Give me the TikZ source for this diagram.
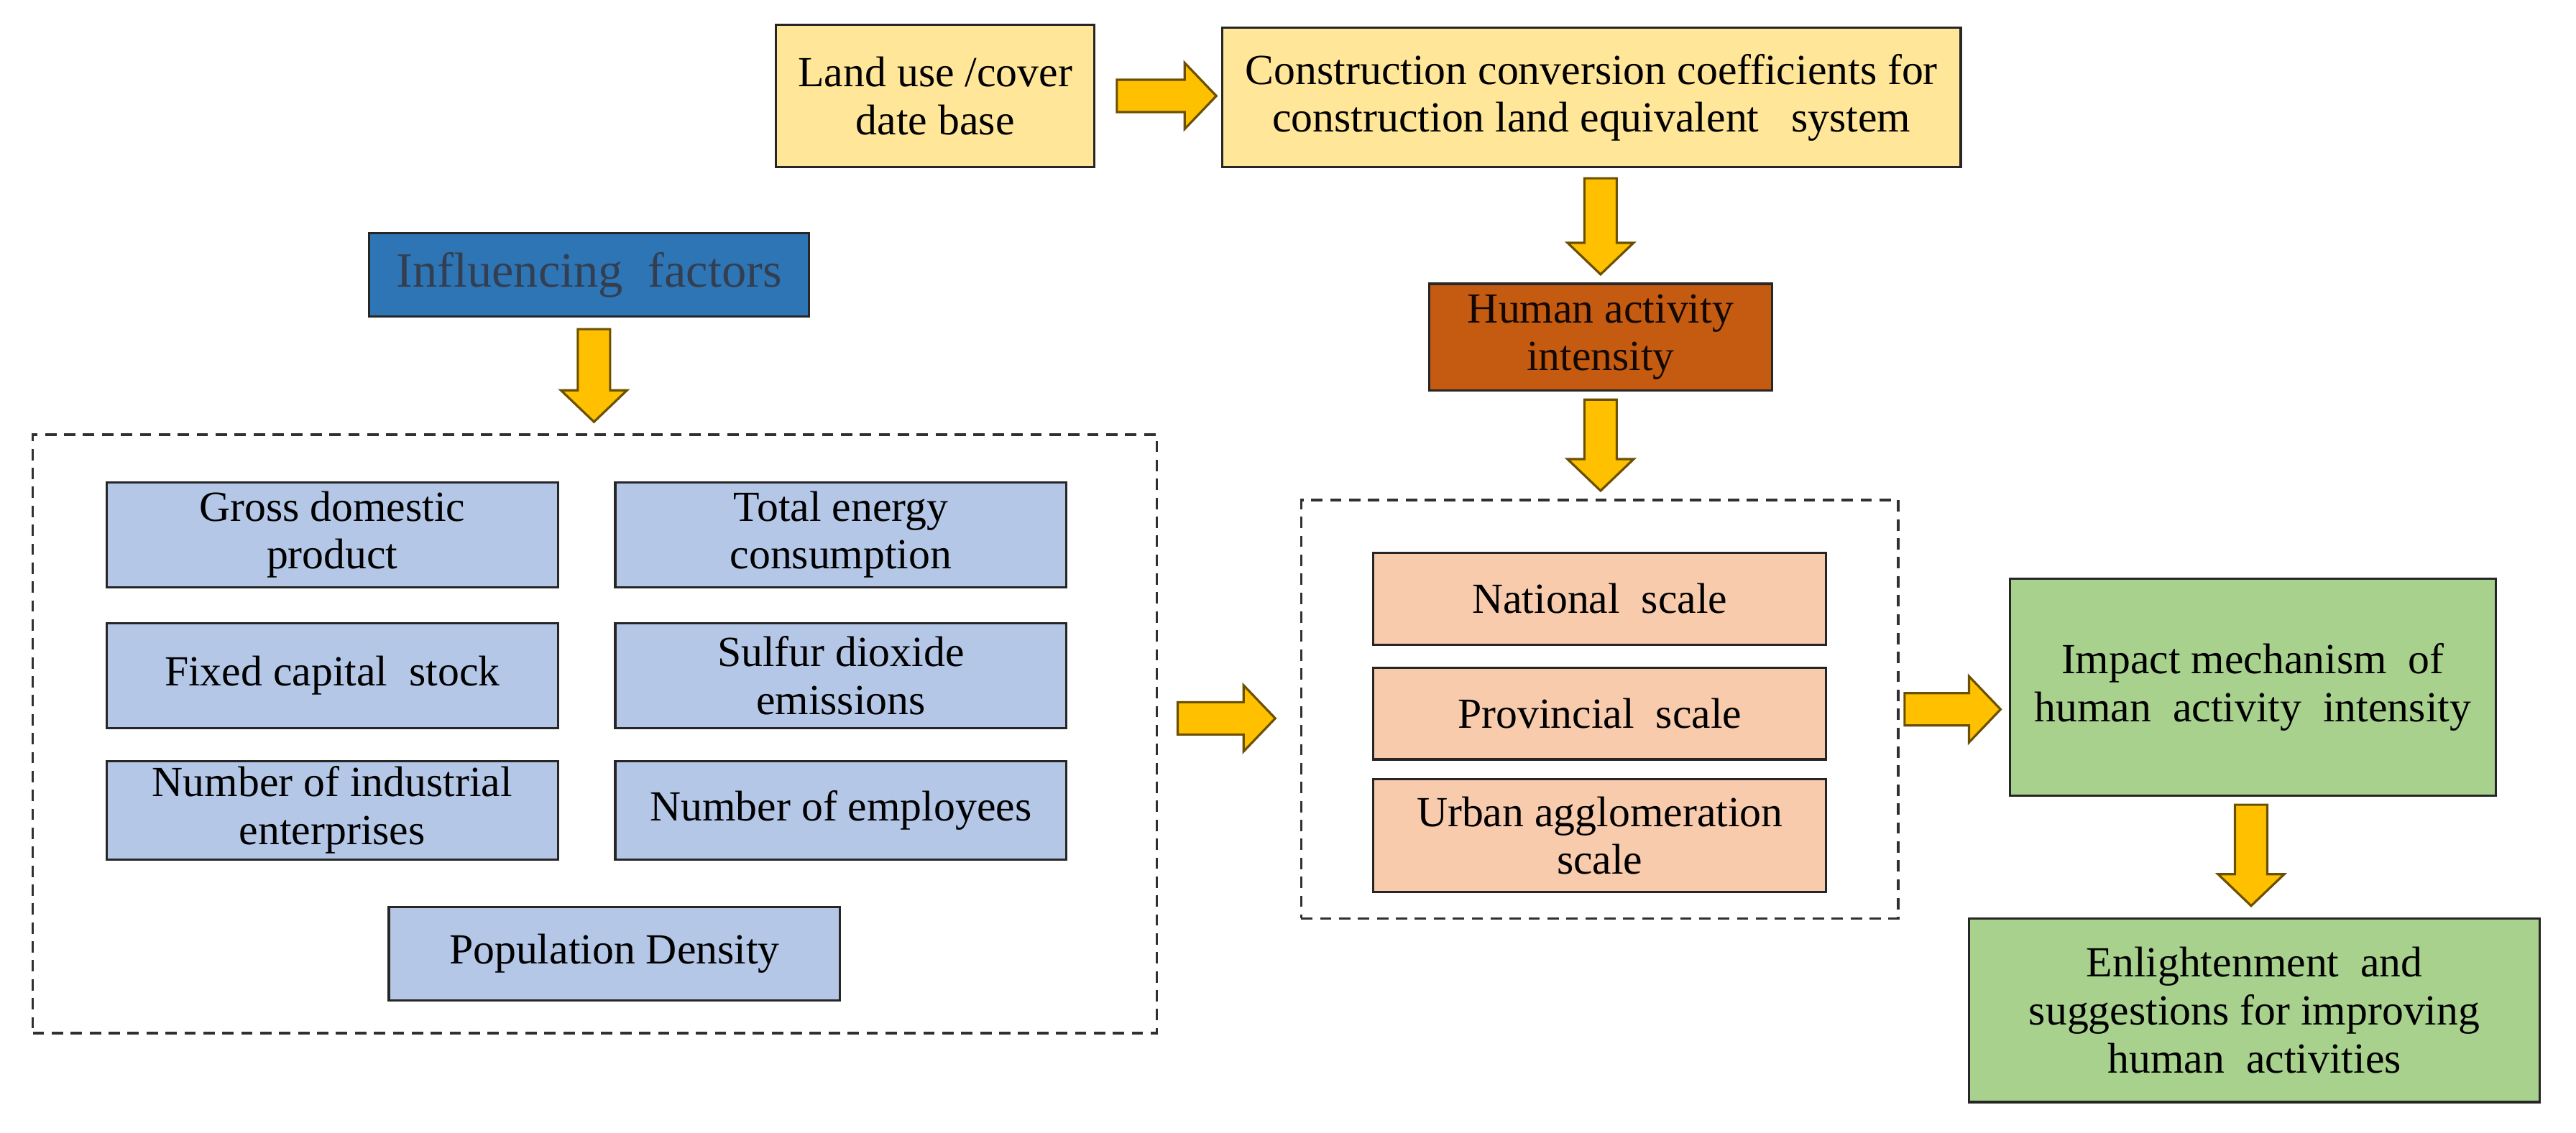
\documentclass[tikz,border=0pt]{standalone}
\usepackage{fontspec}
\setmainfont{Liberation Serif}
\usetikzlibrary{calc}
\definecolor{boxline}{HTML}{262626}
\definecolor{yel}{HTML}{FFE699}
\definecolor{lblue}{HTML}{B4C7E7}
\definecolor{dblue}{HTML}{2E75B6}
\definecolor{dorange}{HTML}{C55A11}
\definecolor{peach}{HTML}{F8CBAD}
\definecolor{lgreen}{HTML}{A9D18E}
\definecolor{arrfill}{HTML}{FFC000}
\definecolor{arrline}{HTML}{6B5000}
\definecolor{infltext}{HTML}{333F50}
\definecolor{dashcol}{HTML}{303030}
\newcommand{\U}{0.022828cm}
\newcommand{\ASW}{0.225cm}
\newcommand{\AHW}{0.46cm}
\newcommand{\AHL}{0.44cm}
\newcommand{\harrow}[2]{\draw[barrow] let \p1=(#1), \p2=(#2) in
  (\x1,{\y1+\ASW}) -- ({\x2-\AHL},{\y1+\ASW}) -- ({\x2-\AHL},{\y1+\AHW}) -- (\x2,\y1)
  -- ({\x2-\AHL},{\y1-\AHW}) -- ({\x2-\AHL},{\y1-\ASW}) -- (\x1,{\y1-\ASW}) -- cycle;}
\newcommand{\varrow}[2]{\draw[barrow] let \p1=(#1), \p2=(#2) in
  ({\x1-\ASW},\y1) -- ({\x1-\ASW},{\y2+\AHL}) -- ({\x1-\AHW},{\y2+\AHL}) -- (\x1,\y2)
  -- ({\x1+\AHW},{\y2+\AHL}) -- ({\x1+\ASW},{\y2+\AHL}) -- ({\x1+\ASW},\y1) -- cycle;}
\tikzset{
  box/.style={draw=boxline, line width=0.9pt, align=center, inner sep=2pt,
    font=\fontsize{17}{19}\selectfont},
  sz/.style 2 args={minimum width={#1*\U}, minimum height={#2*\U}},
  dbox/.style={draw=dashcol, line width=1pt, dash pattern=on 4.5pt off 3pt},
  barrow/.style={fill=arrfill, draw=arrline, line width=0.9pt, line join=miter},
}
\begin{document}
\begin{tikzpicture}[x=0.022828cm, y=-0.022828cm]
\useasboundingbox (0,0) rectangle (1570,690.4);
% dashed groups
\node[dbox, sz={685}{365}] (leftdash) at (362.5,447.5) {};
\node[dbox, sz={364}{255}] (rightdash) at (975,432.5) {};
% top row
\node[box, fill=yel, sz={194}{87}] (land) at (570,58.5) {Land use /cover\\date base};
\node[box, fill=yel, sz={450}{85}] (cons) at (970,59.5) {Construction conversion coefficients for\\construction land equivalent\ \ \ system};
\node[box, fill=dorange, sz={209}{65}, text=black!90!dorange] (human) at (975.5,205.5) {Human activity\\intensity};
\node[box, fill=dblue, sz={268}{51}, text=infltext, font=\fontsize{19.5}{22}\selectfont] (infl) at (359,167.5) {Influencing\ \ factors};
% left factors
\node[box, fill=lblue, sz={275}{64}] (gdp) at (202.5,326) {Gross domestic\\product};
\node[box, fill=lblue, sz={275}{64}] (tec) at (512.5,326) {Total energy\\consumption};
\node[box, fill=lblue, sz={275}{64}] (fcs) at (202.5,412) {Fixed capital\ \ stock};
\node[box, fill=lblue, sz={275}{64}] (sde) at (512.5,412) {Sulfur dioxide\\emissions};
\node[box, fill=lblue, sz={275}{60}] (nie) at (202.5,494) {Number of industrial\\enterprises};
\node[box, fill=lblue, sz={275}{60}] (noe) at (512.5,494) {Number of employees};
\node[box, fill=lblue, sz={275}{57}] (pop) at (374.5,581.5) {Population Density};
% scales
\node[box, fill=peach, sz={276}{56}] (nat) at (975,365) {National\ \ scale};
\node[box, fill=peach, sz={276}{56}] (prov) at (975,435) {Provincial\ \ scale};
\node[box, fill=peach, sz={276}{69}] (urban) at (975,509.5) {Urban agglomeration\\scale};
% right
\node[box, fill=lgreen, sz={296}{132}] (impact) at (1373,419) {Impact mechanism\ \ of\\human\ \ activity\ \ intensity};
\node[box, fill=lgreen, sz={348}{112}] (enl) at (1374,616) {Enlightenment\ \ and\\suggestions for improving\\human\ \ activities};
% block arrows
\harrow{$(land.east)+(13,0)$}{$(cons.west)+(-3,0)$}
\varrow{$(human.north|-cons.south)+(0,6)$}{$(human.north)+(0,-5)$}
\varrow{$(human.south)+(0,5)$}{$(human.south|-rightdash.north)+(0,-5)$}
\varrow{$(infl.south)+(3,7)$}{$(infl.south|-leftdash.north)+(3,-7)$}
\harrow{$(leftdash.east|-prov.center)+(12,3)$}{$(rightdash.west|-prov.center)+(-15,3)$}
\harrow{$(rightdash.east)+(3,0)$}{$(impact.west|-rightdash.east)+(-5,0)$}
\varrow{$(impact.south)+(-1,5)$}{$(impact.south|-enl.north)+(-1,-7)$}
\end{tikzpicture}
\end{document}
